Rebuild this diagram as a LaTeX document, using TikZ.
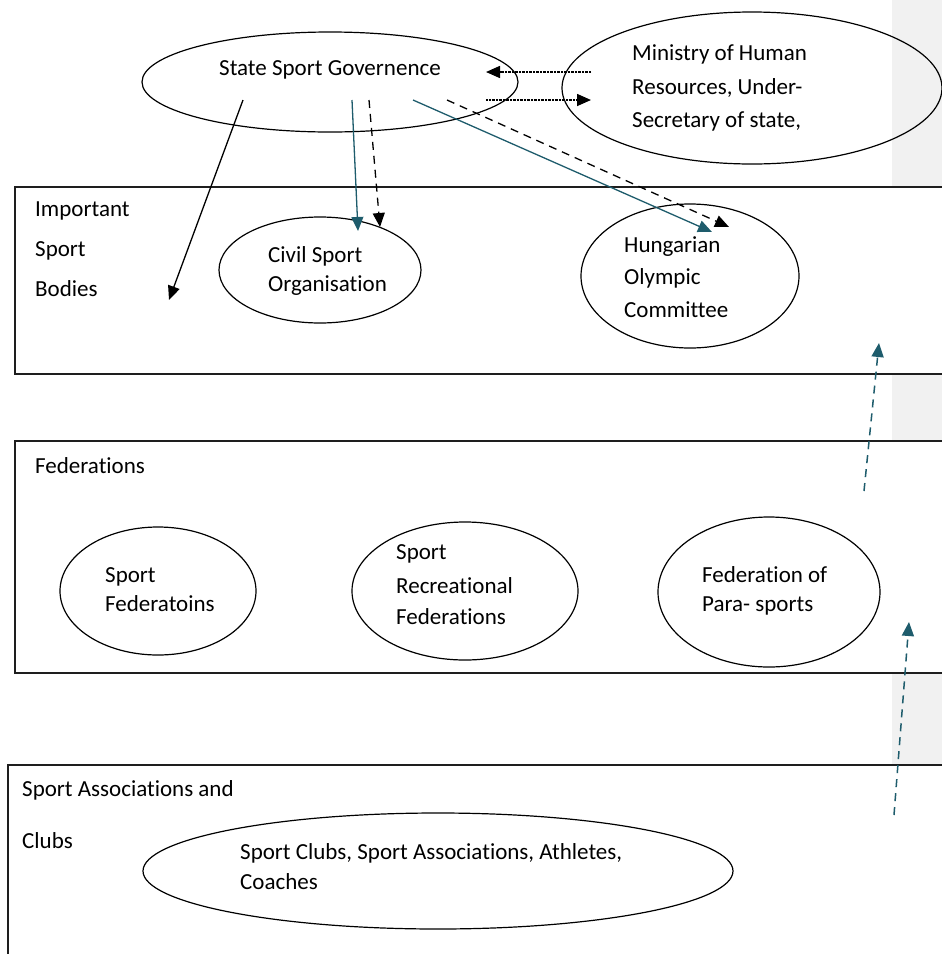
\documentclass[tikz,border=0pt]{standalone}
\usepackage{fontspec}
\setmainfont{Carlito}[Ligatures=NoCommon]
\usetikzlibrary{shapes.geometric,arrows.meta}
\definecolor{teal1}{RGB}{30,92,108}
\definecolor{band}{RGB}{241,241,241}
\definecolor{boxline}{RGB}{30,30,30}
\tikzset{
  txt/.style={anchor=base west,inner sep=0pt,font=\fontsize{23}{27}\selectfont},
  oval/.style={ellipse,draw=black,line width=1.2pt,inner sep=0pt},
  level/.style={draw=boxline,line width=1.5pt,fill=white},
  tipb/.style={-{Triangle[length=14pt,width=12pt]}},
  blackarrow/.style={tipb,line width=1.3pt,draw=black},
  tealarrow/.style={line width=1.3pt,draw=teal1,-{Triangle[length=14pt,width=12pt,fill=teal1]}},
  blackdash/.style={tipb,line width=1.3pt,dash pattern=on 8pt off 6pt},
  tealdash/.style={line width=1.5pt,draw=teal1,dash pattern=on 8pt off 6pt,-{Triangle[length=14pt,width=12pt,fill=teal1]}},
  dotarrow/.style={tipb,line width=1.6pt,dash pattern=on 0.8pt off 0.6pt}
}
\begin{document}
\begin{tikzpicture}[x=1pt,y=-1pt]
\useasboundingbox (0,0) rectangle (942,954);
\clip (0,0) rectangle (942,954);
\fill[band] (892,0) rectangle (942,954);
% level boxes
\draw[level] (15,187) rectangle (960,374);
\draw[level] (15,441) rectangle (960,673);
\draw[level] (8,765) rectangle (960,975);
% top ellipses
\node[oval,minimum width=376pt,minimum height=100pt] (ssg) at (330,82) {};
\node[txt] (ssgt) at (219,75) {State Sport Governence};
\node[oval,minimum width=380pt,minimum height=152pt] (min) at (752,88) {};
\node[txt] (min1) at (632,60) {Ministry of Human};
\node[txt] (min2) at (632,94) {Resources, Under-};
\node[txt] (min3) at (632,127) {Secretary of state,};
% important sport bodies
\node[txt] (imp1) at (35,216) {Important};
\node[txt] (imp2) at (35,256) {Sport};
\node[txt] (imp3) at (35,296) {Bodies};
\node[oval,minimum width=202pt,minimum height=106pt] (cso) at (320,270) {};
\node[txt] (cso1) at (268,262) {Civil Sport};
\node[txt] (cso2) at (268,291) {Organisation};
\node[oval,minimum width=218pt,minimum height=144pt] (hoc) at (690,276) {};
\node[txt] (hoc1) at (624,252) {Hungarian};
\node[txt] (hoc2) at (624,284) {Olympic};
\node[txt] (hoc3) at (624,317) {Committee};
% federations
\node[txt] (fed) at (35,473) {Federations};
\node[oval,minimum width=196pt,minimum height=128pt] (sf) at (158,591) {};
\node[txt] (sf1) at (105,582) {Sport};
\node[txt] (sf2) at (105,611) {Federatoins};
\node[oval,minimum width=226pt,minimum height=138pt] (srf) at (465,591) {};
\node[txt] (srf1) at (396,559) {Sport};
\node[txt] (srf2) at (396,593) {Recreational};
\node[txt] (srf3) at (396,624) {Federations};
\node[oval,minimum width=222pt,minimum height=150pt] (fps) at (769,592) {};
\node[txt] (fps1) at (702,582) {Federation of};
\node[txt] (fps2) at (702,611) {Para- sports};
% clubs
\node[txt] (cl1) at (22,796) {Sport Associations and};
\node[txt] (cl2) at (22,848) {Clubs};
\node[oval,minimum width=590pt,minimum height=116pt] (sc) at (438,871) {};
\node[txt] (sc1) at (240,859) {Sport Clubs, Sport Associations, Athletes,};
\node[txt] (sc2) at (240,889) {Coaches};
% connector end points
\coordinate (a1s) at (591,72); \coordinate (a1e) at (486,72);
\coordinate (a2s) at (486,100); \coordinate (a2e) at (591,100);
\coordinate (b1s) at (243,100); \coordinate (b1e) at (169,300);
\coordinate (b2s) at (352,100); \coordinate (b2e) at (358,231);
\coordinate (b3s) at (369,100); \coordinate (b3e) at (380,227);
\coordinate (b4s) at (413,100); \coordinate (b4e) at (712,232);
\coordinate (b5s) at (447,100); \coordinate (b5e) at (729,227);
\coordinate (u1s) at (864,491); \coordinate (u1e) at (879,343);
\coordinate (u2s) at (894,815); \coordinate (u2e) at (909,622);
% connectors
\draw[dotarrow] (a1s) -- (a1e);
\draw[dotarrow] (a2s) -- (a2e);
\draw[blackarrow] (b1s) -- (b1e);
\draw[tealarrow] (b2s) -- (b2e);
\draw[blackdash] (b3s) -- (b3e);
\draw[tealarrow] (b4s) -- (b4e);
\draw[blackdash] (b5s) -- (b5e);
\draw[tealdash] (u1s) -- (u1e);
\draw[tealdash] (u2s) -- (u2e);
\end{tikzpicture}
\end{document}
